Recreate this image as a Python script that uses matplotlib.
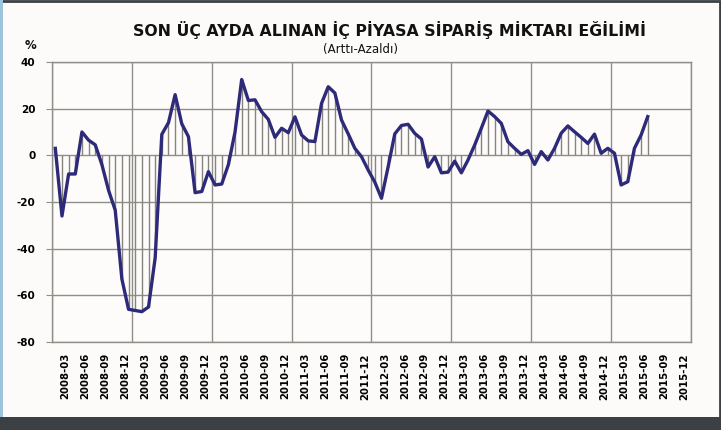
import matplotlib
matplotlib.use("Agg")
import matplotlib.pyplot as plt
import numpy as np
from matplotlib.patches import Rectangle

# monthly values, 2008-03 .. 2015-08
months_start = (2008, 3)
values = [
    3, -26, -8, -8, 10, 6.5, 4.5, -4, -15, -23.5,
    -53, -66, -66.5, -67, -65, -44, 9, 14, 26, 13.5,
    8, -16, -15.5, -7, -12.7, -12.3, -4, 10, 32.5, 23.5,
    23.8, 18.7, 15.4, 7.7, 11.6, 9.7, 16.5, 8.7, 6.2, 5.9,
    22.3, 29.4, 26.7, 15.1, 9.2, 3, -0.6, -6.3, -11.5, -18.4,
    -4.9, 9.2, 12.8, 13.3, 9.4, 7, -5, -0.6, -7.5, -7.2,
    -2.5, -7.5, -2, 4.4, 11.6, 19, 16.6, 13.7, 5.8, 3,
    0.4, 2, -3.9, 1.6, -2, 3, 9.5, 12.6, 10.1, 7.7,
    5.1, 9.1, 0.9, 3, 0.9, -12.7, -11.3, 3, 8.7, 16.6,
]
n_categories = 96  # axis runs 2008-03 .. 2016-02

cat_labels = []
y, m = months_start
for i in range(n_categories):
    cat_labels.append(f"{y}-{m:02d}")
    m += 1
    if m > 12:
        m = 1
        y += 1
tick_idx = list(range(0, 94, 3))
tick_labels = [cat_labels[i] for i in tick_idx]
y_ticks = [40, 20, 0, -20, -40, -60, -80]

LINE = "#2e2a7a"
BAR = "#86847c"
GRID = "#8f8f8a"

fig = plt.figure(figsize=(7.21, 4.30), dpi=100)
fig.patch.set_facecolor("#fcfbf9")
ax = fig.add_axes([0.0721, 0.2047, 0.8863, 0.6511])
ax.set_facecolor("#fdfcfa")

x = np.arange(len(values))
ax.vlines(x, 0, values, color=BAR, linewidth=1.0, zorder=2)
ax.plot(x, values, color=LINE, linewidth=2.4, zorder=3, solid_joinstyle="round")

ax.set_xlim(-0.5, n_categories - 0.5)
ax.set_ylim(-80, 40)

# grid: horizontal every 20, vertical every 12 categories
for yy in y_ticks:
    ax.axhline(yy, color=GRID, linewidth=1.0, zorder=1)
for k in range(0, n_categories + 1, 12):
    ax.axvline(k - 0.5, color=GRID, linewidth=1.0, zorder=1)

ax.set_yticks(y_ticks)
ax.set_yticklabels([str(v) for v in y_ticks], fontsize=7.5, fontweight="bold")
ax.tick_params(axis="y", length=4, color=GRID, pad=8)

ax.set_xticks(np.array(tick_idx) + 1.5)
ax.set_xticklabels(tick_labels, rotation=90, fontsize=7.3, fontweight="bold")
ax.tick_params(axis="x", length=0, pad=8)

for s in ax.spines.values():
    s.set_color(GRID)
    s.set_linewidth(1.0)

fig.text(0.54, 0.93, "SON ÜÇ AYDA ALINAN İÇ PİYASA SİPARİŞ MİKTARI EĞİLİMİ",
         ha="center", va="center", fontsize=11.3, fontweight="heavy", color="#111111")
fig.text(0.50, 0.885, "(Arttı-Azaldı)", ha="center", va="center",
         fontsize=8.5, color="#111111")
fig.text(0.042, 0.895, "%", ha="center", va="center", fontsize=8.5,
         fontweight="bold", color="#111111")

# screenshot frame
fig.patches.append(Rectangle((0, 0), 1, 0.03, transform=fig.transFigure,
                             facecolor="#3b4045", edgecolor="none", zorder=0))
fig.patches.append(Rectangle((0.002, 0.002), 0.996, 0.996, transform=fig.transFigure,
                             facecolor="none", edgecolor="#3b4045", linewidth=2, zorder=0))
fig.patches.append(Rectangle((0, 0.03), 0.004, 0.97, transform=fig.transFigure,
                             facecolor="#9ec3dc", edgecolor="none", zorder=1))

fig.savefig("out.png", dpi=100, facecolor=fig.get_facecolor())
